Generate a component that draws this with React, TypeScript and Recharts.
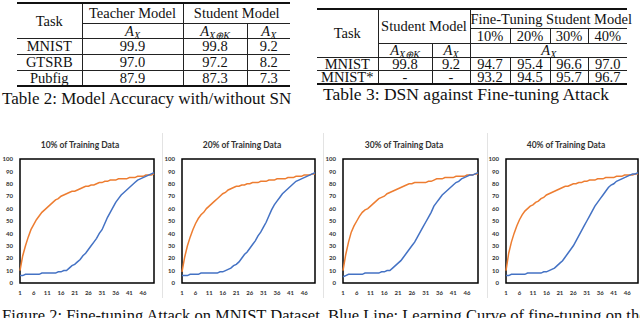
import React from 'react'
import { LineChart, Line, XAxis, YAxis, ReferenceArea } from 'recharts'

// x positions (training epochs) and ticks
const EPOCHS = [
  1, 2, 3, 4, 5, 6, 7, 8, 9, 10, 11, 12, 13, 14, 15, 16, 17, 18, 19, 20, 21, 22, 23, 24, 25,
  26, 27, 28, 29, 30, 31, 32, 33, 34, 35, 36, 37, 38, 39, 40, 41, 42, 43, 44, 45, 46, 47, 48, 49, 50,
]
const X_TICKS = [1, 6, 11, 16, 21, 26, 31, 36, 41, 46]
const Y_TICKS = [0, 10, 20, 30, 40, 50, 60, 70, 80, 90, 100]

// orange: training from scratch, blue: fine-tuning the student model
const ORANGE_10 = [
  10, 22, 30, 37, 43, 47, 51, 54, 57, 59, 61, 63, 65, 67, 68, 70, 71, 72, 73, 74, 74, 75, 76, 77, 78,
  78, 79, 79, 80, 81, 81, 82, 82, 83, 83, 83, 84, 84, 84, 84, 85, 85, 85, 86, 86, 86, 87, 87, 87, 88,
]
const BLUE_10 = [
  6, 6, 7, 7, 7, 7, 7, 7, 8, 8, 8, 8, 8, 8, 9, 9, 10, 10, 12, 14, 15, 17, 19, 22, 24,
  27, 30, 33, 36, 40, 43, 48, 53, 57, 61, 65, 68, 71, 73, 75, 77, 79, 81, 83, 84, 85, 86, 87, 88, 89,
]
const ORANGE_20 = [
  9, 21, 30, 37, 43, 48, 52, 55, 57, 60, 62, 64, 66, 68, 70, 72, 73, 75, 76, 77, 78, 78, 79, 79, 80,
  80, 81, 81, 81, 82, 82, 82, 83, 83, 83, 84, 84, 84, 84, 85, 85, 85, 86, 86, 86, 87, 87, 87, 88, 88,
]
const BLUE_20 = [
  6, 6, 6, 7, 7, 7, 7, 8, 8, 8, 8, 8, 8, 8, 9, 9, 10, 11, 12, 14, 15, 17, 20, 23, 25,
  28, 31, 34, 38, 41, 45, 49, 54, 59, 63, 66, 69, 72, 74, 76, 78, 80, 82, 83, 84, 85, 86, 87, 88, 89,
]
const ORANGE_30 = [
  10, 23, 33, 41, 46, 50, 54, 57, 59, 60, 62, 64, 66, 68, 69, 70, 72, 73, 74, 75, 76, 77, 78, 79, 80,
  80, 81, 81, 81, 81, 81, 82, 82, 83, 84, 84, 84, 85, 85, 85, 85, 86, 86, 86, 86, 87, 87, 87, 88, 88,
]
const BLUE_30 = [
  5, 6, 7, 7, 7, 7, 7, 7, 8, 8, 8, 8, 8, 8, 9, 9, 10, 10, 12, 14, 16, 18, 21, 24, 27,
  30, 33, 37, 41, 45, 49, 53, 57, 62, 65, 68, 71, 73, 75, 77, 79, 81, 82, 84, 85, 86, 87, 87, 88, 89,
]
const ORANGE_40 = [
  10, 24, 33, 40, 46, 51, 55, 58, 60, 62, 63, 65, 66, 68, 69, 71, 72, 73, 74, 75, 76, 77, 78, 78, 79,
  80, 80, 81, 81, 82, 82, 83, 83, 83, 84, 84, 84, 85, 85, 85, 85, 86, 86, 86, 87, 87, 87, 87, 88, 88,
]
const BLUE_40 = [
  6, 6, 7, 7, 7, 7, 7, 7, 8, 8, 8, 8, 8, 8, 9, 9, 10, 11, 12, 14, 16, 18, 21, 24, 27,
  30, 34, 38, 42, 46, 50, 54, 58, 62, 65, 68, 71, 74, 77, 79, 80, 82, 83, 84, 85, 86, 87, 88, 88, 89,
]

// table contents
const T2_ROWS = [
  ['MNIST', '99.9', '99.8', '9.2'],
  ['GTSRB', '97.0', '97.2', '8.2'],
  ['Pubfig', '87.9', '87.3', '7.3'],
]
const T3_SPLITS = ['10%', '20%', '30%', '40%']
const T3_ROWS = [
  ['MNIST', '99.8', '9.2', '94.7', '95.4', '96.6', '97.0'],
  ['MNIST*', '-', '-', '93.2', '94.5', '95.7', '96.7'],
]

const SERIF = '"Liberation Serif", "Times New Roman", serif'
const LINE = '1px solid #222'
const RULE = '2px solid #111'
const ORANGE = '#ED7D31'
const BLUE = '#4472C4'

const AX = ({ sub = 'X' }: { sub?: string }) => (
  <span>
    <i>A</i>
    <sub style={{ fontSize: 10, fontStyle: 'italic', verticalAlign: -3, lineHeight: 0 }}>{sub}</sub>
  </span>
)

const PANELS = [
  { title: '10% of Training Data', orange: ORANGE_10, blue: BLUE_10, left: 20, right: 154, titleX: 80, sep: 162 },
  { title: '20% of Training Data', orange: ORANGE_20, blue: BLUE_20, left: 182, right: 315, titleX: 242, sep: 323 },
  { title: '30% of Training Data', orange: ORANGE_30, blue: BLUE_30, left: 343, right: 478, titleX: 404, sep: 487 },
  { title: '40% of Training Data', orange: ORANGE_40, blue: BLUE_40, left: 506, right: 638, titleX: 566, sep: 0 },
]

const tick = { fontSize: 6, fontWeight: 700, fill: '#333', fontFamily: 'Lato, sans-serif' }

function Panel({ title, orange, blue, left, right, titleX }: any) {
  const data = EPOCHS.map((e, i) => ({ epoch: e, orange: orange[i], blue: blue[i] }))
  const w = right - left + 24
  return (
    <>
      <div
        style={{
          position: 'absolute',
          top: 140,
          left: titleX - 60,
          width: 120,
          textAlign: 'center',
          font: '700 8.5px Lato, sans-serif',
          color: '#333',
        }}
      >
        {title}
      </div>
      <div style={{ position: 'absolute', left: left - 20, top: 150 }}>
        <LineChart width={w} height={150} data={data} margin={{ top: 9, right: 4, left: 0, bottom: 0 }}>
          <XAxis
            dataKey="epoch"
            type="number"
            domain={[1, 50]}
            ticks={X_TICKS}
            interval={0}
            axisLine={false}
            tickLine={false}
            tick={tick}
            height={17}
          />
          <YAxis
            domain={[0, 100]}
            ticks={Y_TICKS}
            interval={0}
            axisLine={false}
            tickLine={false}
            tick={tick}
            width={20}
            tickMargin={1}
          />
          <Line dataKey="orange" stroke={ORANGE} strokeWidth={1.5} dot={false} isAnimationActive={false} />
          <Line dataKey="blue" stroke={BLUE} strokeWidth={1.5} dot={false} isAnimationActive={false} />
          <ReferenceArea x1={1} x2={50} y1={0} y2={100} stroke="#000" strokeWidth={1.5} fill="none" fillOpacity={0} />
        </LineChart>
      </div>
    </>
  )
}

const cell = (extra: React.CSSProperties = {}): React.CSSProperties => ({
  padding: 0,
  textAlign: 'center',
  verticalAlign: 'middle',
  lineHeight: '12px',
  whiteSpace: 'nowrap',
  ...extra,
})

export default function App() {
  return (
    <div style={{ position: 'relative', width: 640, height: 318, overflow: 'hidden', background: '#fff', fontFamily: SERIF, color: '#111' }}>
      <style>{'body{margin:0}'}</style>

      {/* Table 2 */}
      <table style={{ position: 'absolute', left: 17, top: 2, width: 273, borderCollapse: 'collapse', tableLayout: 'fixed', fontSize: 14.5 }}>
        <colgroup>
          <col style={{ width: 65 }} />
          <col style={{ width: 101 }} />
          <col style={{ width: 64 }} />
          <col style={{ width: 43 }} />
        </colgroup>
        <tbody>
          <tr style={{ height: 20 }}>
            <td rowSpan={2} style={cell({ borderTop: RULE, borderRight: LINE, borderBottom: LINE })}>Task</td>
            <td style={cell({ borderTop: RULE, borderRight: LINE, borderBottom: LINE })}>Teacher Model</td>
            <td colSpan={2} style={cell({ borderTop: RULE, borderBottom: LINE })}>Student Model</td>
          </tr>
          <tr style={{ height: 15 }}>
            <td style={cell({ borderRight: LINE, borderBottom: LINE })}><AX /></td>
            <td style={cell({ borderRight: LINE, borderBottom: LINE })}><AX sub="X⊕K" /></td>
            <td style={cell({ borderBottom: LINE })}><AX /></td>
          </tr>
          {T2_ROWS.map((r, ri) => (
            <tr key={r[0]} style={{ height: 16 }}>
              {r.map((v, ci) => (
                <td
                  key={ci}
                  style={cell({
                    borderRight: ci < 3 ? LINE : undefined,
                    borderBottom: ri === T2_ROWS.length - 1 ? RULE : LINE,
                  })}
                >
                  {v}
                </td>
              ))}
            </tr>
          ))}
        </tbody>
      </table>
      <div style={{ position: 'absolute', left: 2, top: 90, fontSize: 17, lineHeight: '18px', whiteSpace: 'nowrap' }}>
        Table 2: Model Accuracy with/without SN
      </div>

      {/* Table 3 */}
      <table style={{ position: 'absolute', left: 317, top: 8, width: 310, borderCollapse: 'collapse', tableLayout: 'fixed', fontSize: 14.5 }}>
        <colgroup>
          <col style={{ width: 61 }} />
          <col style={{ width: 54 }} />
          <col style={{ width: 38 }} />
          <col style={{ width: 40 }} />
          <col style={{ width: 40 }} />
          <col style={{ width: 38 }} />
          <col style={{ width: 39 }} />
        </colgroup>
        <tbody>
          <tr style={{ height: 19 }}>
            <td rowSpan={3} style={cell({ borderTop: RULE, borderRight: LINE, borderBottom: LINE })}>Task</td>
            <td colSpan={2} rowSpan={2} style={cell({ borderTop: RULE, borderRight: LINE, borderBottom: LINE })}>Student Model</td>
            <td colSpan={4} style={cell({ borderTop: RULE, borderBottom: LINE })}>Fine-Tuning Student Model</td>
          </tr>
          <tr style={{ height: 15 }}>
            {T3_SPLITS.map((s, i) => (
              <td key={s} style={cell({ borderRight: i < 3 ? LINE : undefined, borderBottom: LINE })}>{s}</td>
            ))}
          </tr>
          <tr style={{ height: 14 }}>
            <td style={cell({ borderRight: LINE, borderBottom: LINE })}><AX sub="X⊕K" /></td>
            <td style={cell({ borderRight: LINE, borderBottom: LINE })}><AX /></td>
            <td colSpan={4} style={cell({ borderBottom: LINE })}><AX /></td>
          </tr>
          {T3_ROWS.map((r, ri) => (
            <tr key={r[0]} style={{ height: 13 }}>
              {r.map((v, ci) => (
                <td
                  key={ci}
                  style={cell({
                    borderRight: ci < 6 ? LINE : undefined,
                    borderBottom: ri === T3_ROWS.length - 1 ? RULE : LINE,
                  })}
                >
                  {v}
                </td>
              ))}
            </tr>
          ))}
        </tbody>
      </table>
      <div style={{ position: 'absolute', left: 323, top: 85, fontSize: 17.5, lineHeight: '18px', whiteSpace: 'nowrap' }}>
        Table 3: DSN against Fine-tuning Attack
      </div>

      {/* panel separators */}
      {PANELS.filter(p => p.sep).map(p => (
        <div key={p.sep} style={{ position: 'absolute', left: p.sep, top: 133, width: 1, height: 165, background: '#e3e3e3' }} />
      ))}

      {PANELS.map(p => (
        <Panel key={p.title} {...p} />
      ))}

      <div style={{ position: 'absolute', left: 2, top: 307, fontSize: 16.5, lineHeight: '18px', whiteSpace: 'nowrap' }}>
        Figure 2: Fine-tuning Attack on MNIST Dataset. Blue Line: Learning Curve of fine-tuning on the
      </div>
    </div>
  )
}
